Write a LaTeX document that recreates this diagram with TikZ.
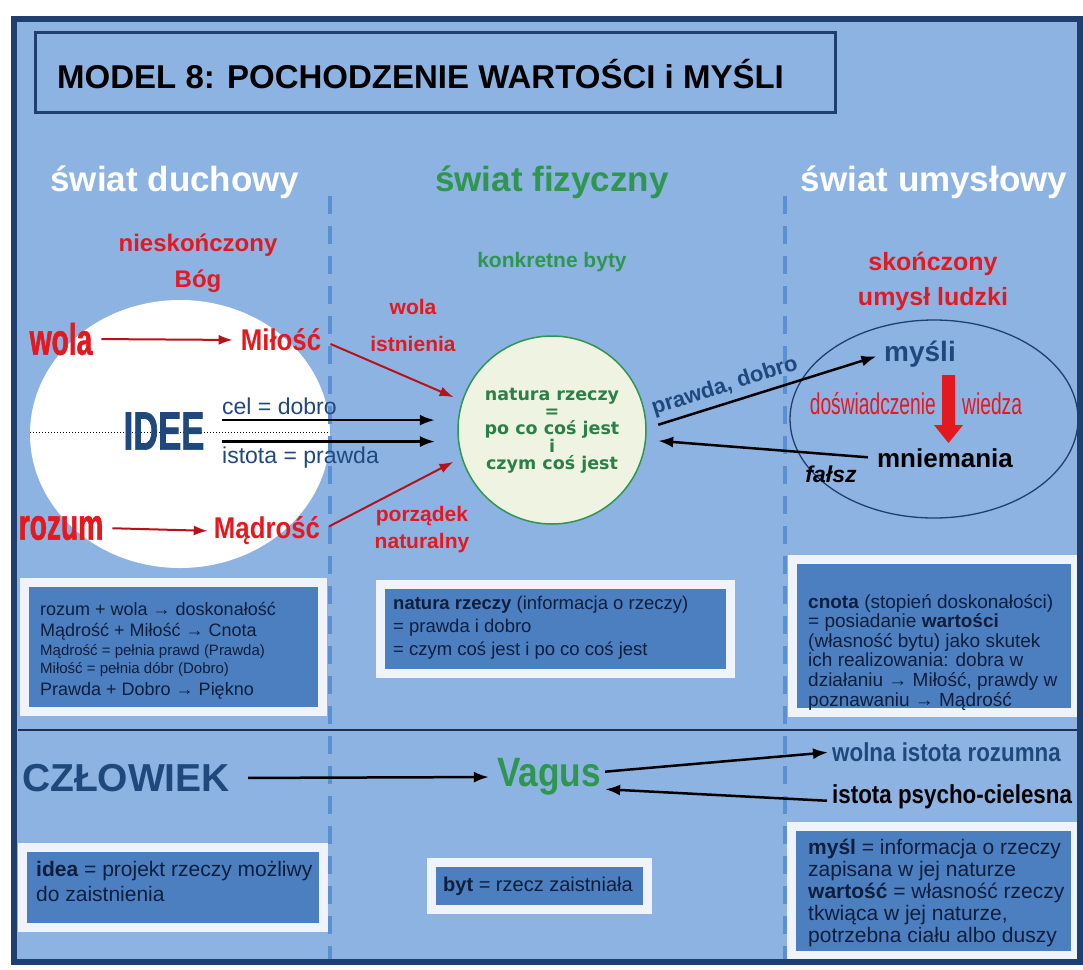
\documentclass[tikz,border=0pt]{standalone}
\usepackage{fontspec}
\setmainfont{Liberation Sans}
\newfontfamily\condfont[FakeStretch=0.64]{Liberation Sans}
\newfontfamily\heavyfont[FakeStretch=0.64, BoldFeatures={FakeBold=1.2}]{Liberation Sans}
\newfontfamily\midfont[FakeStretch=0.86]{Liberation Sans}
\newfontfamily\dejafont{DejaVu Sans}
\usetikzlibrary{arrows.meta,shapes.geometric}
\definecolor{bgblue}{HTML}{8DB3E2}
\definecolor{frameblue}{HTML}{1F3F6F}
\definecolor{boxblue}{HTML}{4C7FC0}
\definecolor{boxedge}{HTML}{F0F4FA}
\definecolor{navy}{HTML}{0E1E3C}
\definecolor{dblue}{HTML}{1F497D}
\definecolor{lred}{HTML}{E3191F}
\definecolor{dred}{HTML}{B5121B}
\definecolor{lgreen}{HTML}{2F9650}
\definecolor{cgreen}{HTML}{2B8048}
\definecolor{circfill}{HTML}{EEF4E1}
\definecolor{dashblue}{HTML}{5B8FD4}
\definecolor{linecol}{HTML}{1F2F4F}
\tikzset{
  box/.style={draw=boxedge, line width=9pt, fill=boxblue, inner sep=0pt},
  boxtxt/.style={anchor=west, align=left, text=navy},
  redlbl/.style={text=lred, font=\midfont\bfseries\fontsize{#1}{#1}\selectfont},
  twolbl/.style 2 args={text=lred, align=center, font=\bfseries\fontsize{#1}{#2}\selectfont},
  blk/.style={draw=black, line width=2.5pt, -{Latex[length=15pt,width=11pt]}},
  redarr/.style={draw=dred, line width=2pt, -{Latex[length=14pt,width=10pt]}},
  dashline/.style={draw=dashblue, line width=4pt, dash pattern=on 18pt off 12pt}
}
\begin{document}
\begin{tikzpicture}[x=1pt,y=-1pt, every node/.style={inner sep=0pt}]
\useasboundingbox (0,0) rectangle (1083,969);
\fill[white] (0,0) rectangle (1083,969);
\fill[bgblue] (14,19) rectangle (1080,962);

% white ellipse of the spiritual world
\node[ellipse, fill=white, minimum width=300pt, minimum height=268pt] (god) at (180,434) {};
\draw[dotted, line width=1pt] (30,432) -- (330,432);

% dashed separators and horizontal rule
\draw[dashline] (330,196) -- (330,960);
\draw[dashline] (785,196) -- (785,960);
\draw[linecol, line width=1.5pt] (18,730) -- (1078,730);

% title
\node[draw=frameblue, line width=3pt, minimum width=800pt, minimum height=80pt] (tbox) at (435,72) {};
\node[anchor=west, font=\bfseries\fontsize{33}{36}\selectfont] (title) at (57,74) {MODEL 8: POCHODZENIE WARTOŚCI i MYŚLI};

% headings
\node[text=white, font=\bfseries\fontsize{35}{40}\selectfont] (hd1) at (175,182) {świat duchowy};
\node[text=lgreen, font=\bfseries\fontsize{35}{40}\selectfont] (hd2) at (552,182) {świat fizyczny};
\node[text=white, font=\bfseries\fontsize{35}{40}\selectfont] (hd3) at (934,182) {świat umysłowy};

% left column
\node[twolbl={24}{36}] (bog) at (198,263) {nieskończony\\Bóg};
\node[text=lred, font=\heavyfont\bfseries\fontsize{44}{48}\selectfont] (wola) at (61,339) {wola};
\node[redlbl=30] (milosc) at (281,340) {Miłość};
\node[text=lred, font=\heavyfont\bfseries\fontsize{44}{48}\selectfont] (rozum) at (61,528) {rozum};
\node[redlbl=30] (madrosc) at (267,531) {Mądrość};
\node[text=dblue, font=\heavyfont\bfseries\fontsize{54}{58}\selectfont] (idee) at (164,431) {IDEE};
\node[anchor=west, text=dblue, font=\fontsize{23}{26}\selectfont] (cel) at (222,406) {cel = dobro};
\node[anchor=west, text=dblue, font=\fontsize{23}{26}\selectfont] (istota) at (222,458) {istota = prawda};

\draw[redarr, shorten <=9pt, shorten >=8pt] (wola.east) -- (milosc.west);
\draw[redarr, shorten <=9pt, shorten >=6pt] (rozum.east) -- (madrosc.west);

% middle column
\node[text=lgreen, font=\bfseries\fontsize{21}{24}\selectfont] (byty) at (552,262) {konkretne byty};
\node[circle, draw=lgreen, line width=1.5pt, fill=circfill, minimum size=188pt] (circ) at (552,430) {};
\node[align=center, text=cgreen, font=\dejafont\bfseries\fontsize{17.5}{17}\selectfont] (natura) at (552,431)
  {natura rzeczy\\=\\po co coś jest\\i\\czym coś jest};
\node[twolbl={21}{37}] (wolaist) at (413,325) {wola\\istnienia};
\node[twolbl={21}{27}] (porzadek) at (422,530) {porządek\\naturalny};

\draw[redarr, shorten <=10pt, shorten >=9pt] (milosc.east) -- (circ.162);
\draw[redarr, shorten <=10pt, shorten >=9pt] (madrosc.east) -- (circ.197);
\draw[blk, shorten >=23pt] (cel.west |- circ.174) -- (circ.174);
\draw[blk, shorten >=23pt] (istota.west |- circ.187) -- (circ.187);

% right column
\node[twolbl={25}{35}] (umysl) at (933,281) {skończony\\umysł ludzki};
\node[ellipse, draw=frameblue, line width=1.3pt, minimum width=288pt, minimum height=198pt] (mind) at (934,419) {};
\node[text=dblue, font=\bfseries\fontsize{28}{30}\selectfont] (mysli) at (920,354) {myśli};
\fill[lred] (942,375) -- (955,375) -- (955,425) -- (963,425) -- (948.5,443) -- (934,425) -- (942,425) -- cycle;
\node[anchor=east, text=lred, font=\condfont\fontsize{30}{32}\selectfont] (dosw) at (936,404) {doświadczenie};
\node[anchor=west, text=lred, font=\condfont\fontsize{30}{32}\selectfont] (wiedza) at (962,404) {wiedza};
\node[font=\bfseries\fontsize{26}{28}\selectfont] (mniem) at (945,458) {mniemania};
\node[font=\bfseries\itshape\fontsize{23}{26}\selectfont] (falsz) at (831,474) {fałsz};

\draw[blk, shorten <=12pt, shorten >=8pt] (circ.1) -- node[pos=0.35, above=5pt, sloped, text=dblue, font=\bfseries\fontsize{22}{24}\selectfont] (prawdob) {prawda, dobro} (mysli.west);
\draw[blk, shorten <=9pt, shorten >=12pt] (mniem.west) -- (circ.-6);

% boxes, upper row
\node[box, minimum width=298pt, minimum height=129pt] (b1) at (173.5,647) {};
\node[anchor=base west, text=navy, font=\fontsize{18}{20}\selectfont] (b1a) at (40,615) {rozum + wola → doskonałość};
\node[anchor=base west, text=navy, font=\fontsize{18}{20}\selectfont] (b1b) at (40,636) {Mądrość + Miłość → Cnota};
\node[anchor=base west, text=navy, font=\fontsize{15}{17}\selectfont] (b1c) at (40,655) {Mądrość = pełnia prawd (Prawda)};
\node[anchor=base west, text=navy, font=\fontsize{15}{17}\selectfont] (b1d) at (40,673) {Miłość = pełnia dóbr (Dobro)};
\node[anchor=base west, text=navy, font=\fontsize{18}{20}\selectfont] (b1e) at (40,695) {Prawda + Dobro → Piękno};

\node[box, minimum width=350pt, minimum height=89pt] (b2) at (555.5,629) {};
\node[boxtxt, font=\fontsize{18.5}{23}\selectfont] (b2t) at (393,628)
  {\textbf{natura rzeczy} (informacja o rzeczy)\\= prawda i dobro\\= czym coś jest i po co coś jest};

\node[box, minimum width=283pt, minimum height=153pt] (b3) at (934,636) {};
\node[boxtxt, font=\fontsize{19}{19.6}\selectfont] (b3t) at (808,652)
  {\textbf{cnota} (stopień doskonałości)\\= posiadanie \textbf{wartości}\\(własność bytu) jako skutek\\ich realizowania: dobra w\\działaniu → Miłość, prawdy w\\poznawaniu → Mądrość};

% lower section
\node[text=dblue, font=\bfseries\fontsize{39}{42}\selectfont] (czl) at (126,778) {CZŁOWIEK};
\node[text=lgreen, font=\midfont\bfseries\fontsize{41}{44}\selectfont] (vagus) at (549,777) {Vagus};
\node[anchor=west, text=dblue, font=\midfont\bfseries\fontsize{26}{28}\selectfont] (wolna) at (832,752) {wolna istota rozumna};
\node[anchor=west, font=\midfont\bfseries\fontsize{26}{28}\selectfont] (psycho) at (832,797) {istota psycho-cielesna};

\draw[blk, shorten <=18pt, shorten >=8pt] (czl.east) -- (vagus.west);
\draw[blk, shorten <=4pt, shorten >=4pt] ([yshift=5pt]vagus.east) -- (wolna.west);
\draw[blk, shorten <=5pt, shorten >=4pt] ([yshift=-4pt]psycho.west) -- ([yshift=-12pt]vagus.east);

% boxes, lower row
\node[box, minimum width=301pt, minimum height=80pt] (b4) at (173,887.5) {};
\node[boxtxt, font=\fontsize{21}{25}\selectfont] (b4t) at (36,881)
  {\textbf{idea} = projekt rzeczy możliwy\\do zaistnienia};

\node[box, minimum width=216pt, minimum height=47pt] (b5) at (539.5,886) {};
\node[boxtxt, font=\fontsize{20}{24}\selectfont] (b5t) at (443,886)
  {\textbf{byt} = rzecz zaistniała};

\node[box, minimum width=284pt, minimum height=129pt] (b6) at (933.5,891) {};
\node[boxtxt, font=\fontsize{21}{22}\selectfont] (b6t) at (808,892.5)
  {\textbf{myśl} = informacja o rzeczy\\zapisana w jej naturze\\\textbf{wartość} = własność rzeczy\\tkwiąca w jej naturze,\\potrzebna ciału albo duszy};

% outer frame
\draw[frameblue, line width=6pt] (14,19) rectangle (1080,962);
\end{tikzpicture}
\end{document}
